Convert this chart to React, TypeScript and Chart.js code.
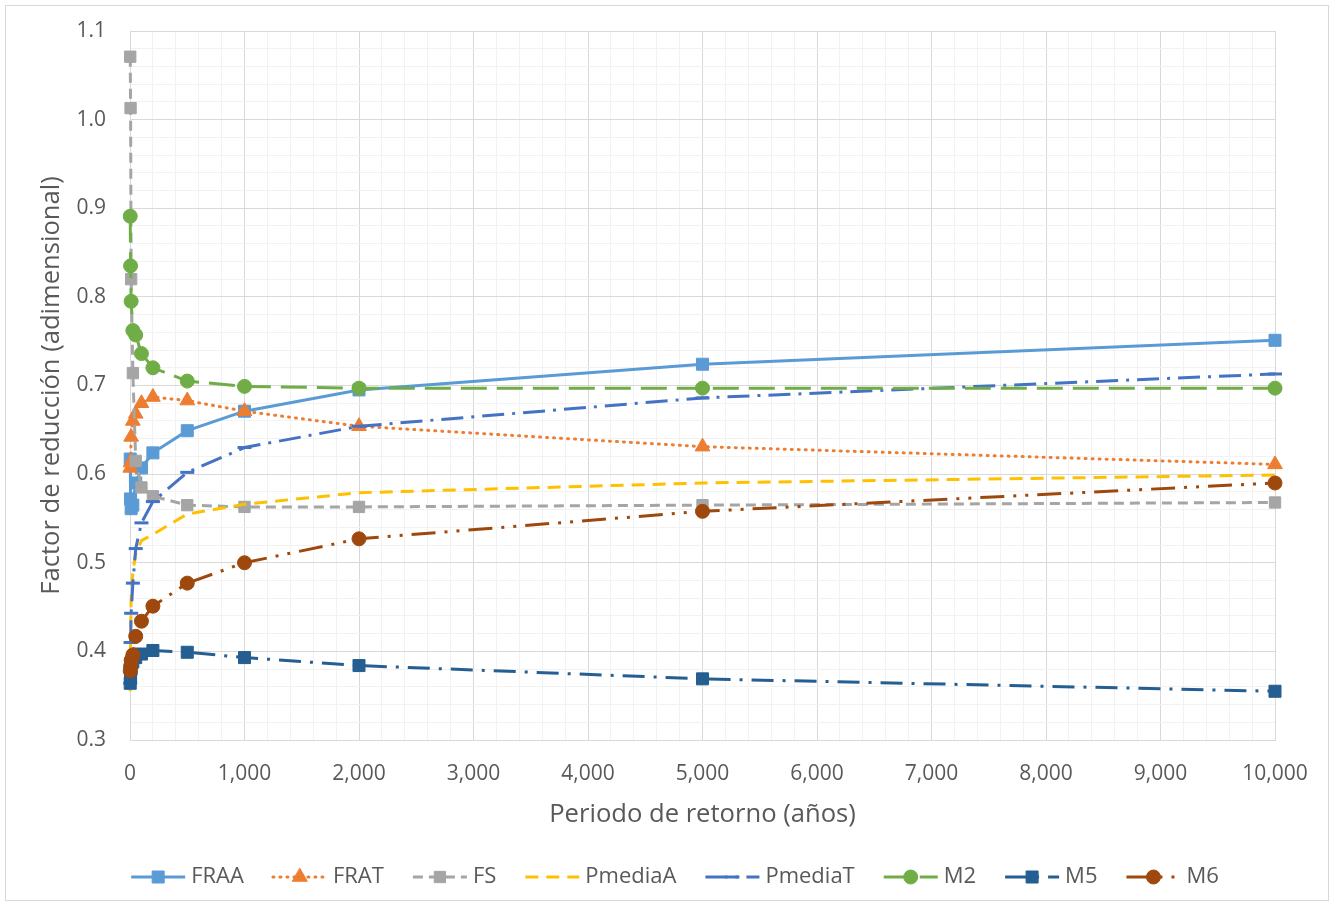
import React, { useEffect, useRef } from "react";
import { Chart, registerables } from "chart.js";
import { drawPoint } from "chart.js/helpers";

Chart.register(...registerables);

const returnPeriods = [2, 5, 10, 25, 50, 100, 200, 500, 1000, 2000, 5000, 10000];
const fraa = [0.617, 0.572, 0.561, 0.565, 0.59, 0.607, 0.624, 0.649, 0.671, 0.695, 0.724, 0.751];
const frat = [0.607, 0.613, 0.642, 0.66, 0.668, 0.68, 0.687, 0.683, 0.671, 0.654, 0.631, 0.611];
const fs = [1.071, 1.013, 0.82, 0.714, 0.615, 0.585, 0.575, 0.565, 0.563, 0.563, 0.565, 0.568];
const pmediaA = [0.355, 0.42, 0.46, 0.49, 0.51, 0.525, 0.532, 0.555, 0.566, 0.579, 0.59, 0.599];
const pmediaT = [0.364, 0.41, 0.443, 0.477, 0.516, 0.545, 0.569, 0.602, 0.63, 0.654, 0.686, 0.713];
const m2 = [0.891, 0.835, 0.795, 0.762, 0.757, 0.736, 0.72, 0.705, 0.699, 0.697, 0.697, 0.697];
const m5 = [0.364, 0.372, 0.38, 0.388, 0.393, 0.397, 0.401, 0.399, 0.393, 0.384, 0.369, 0.355];
const m6 = [0.378, 0.383, 0.39, 0.396, 0.417, 0.434, 0.451, 0.477, 0.5, 0.527, 0.558, 0.59];

const seriesNames = ["FRAA", "FRAT", "FS", "PmediaA", "PmediaT", "M2", "M5", "M6"];
const seriesValues = [fraa, frat, fs, pmediaA, pmediaT, m2, m5, m6];
const seriesColors = ["#5B9BD5", "#ED7D31", "#A5A5A5", "#FFC000", "#4472C4", "#70AD47", "#255E91", "#9E480E"];
const seriesDash: number[][] = [[], [1, 6], [10, 6], [13, 8], [22, 8, 3, 8], [26, 10], [22, 9, 3, 9], [24, 9, 3, 9, 3, 9]];
const seriesCap = ["butt", "round", "butt", "butt", "butt", "butt", "butt", "butt"];
const seriesPointStyle: any[] = ["rect", "triangle", "rect", false, "line", "circle", "rect", "circle"];
const seriesPointRadius = [8.5, 8.5, 8, 0, 7, 7, 8.5, 7];

const xTickLabelStep = 1000;
const yTickLabelStep = 0.1;

const FONT = "'Open Sans', sans-serif";
const TEXT = "#595959";

const legendPlugin = {
  id: "customLegend",
  afterDraw(chart: any) {
    const ctx = chart.ctx;
    const datasets = chart.data.datasets;
    ctx.save();
    ctx.font = `22px ${FONT}`;
    const lineLen = 54;
    const gapLine = 6;
    const gapItem = 29;
    const widths = datasets.map((d: any) => ctx.measureText(d.label).width);
    let total = 0;
    widths.forEach((w: number, i: number) => {
      total += lineLen + gapLine + w + (i < widths.length - 1 ? gapItem : 0);
    });
    let x = 675 - total / 2;
    const y = 877;
    datasets.forEach((d: any, i: number) => {
      ctx.save();
      ctx.strokeStyle = d.borderColor;
      ctx.lineWidth = d.borderWidth;
      ctx.setLineDash(d.borderDash || []);
      ctx.lineCap = d.borderCapStyle || "butt";
      ctx.beginPath();
      ctx.moveTo(x, y);
      ctx.lineTo(x + lineLen, y);
      ctx.stroke();
      ctx.setLineDash([]);
      if (d.pointStyle) {
        ctx.fillStyle = d.borderColor;
        ctx.strokeStyle = d.borderColor;
        ctx.lineWidth = d.pointStyle === "line" ? 3 : 1;
        drawPoint(ctx, { pointStyle: d.pointStyle, rotation: 0, radius: d.pointRadius, borderWidth: ctx.lineWidth }, x + lineLen / 2, y);
      }
      ctx.restore();
      ctx.fillStyle = TEXT;
      ctx.textBaseline = "middle";
      ctx.textAlign = "left";
      ctx.fillText(d.label, x + lineLen + gapLine, y);
      x += lineLen + gapLine + widths[i] + gapItem;
    });
    ctx.restore();
  },
};

export default function App() {
  const ref = useRef<HTMLCanvasElement | null>(null);
  useEffect(() => {
    document.body.style.margin = "0";
    const canvas = ref.current;
    if (!canvas) return;
    const n = seriesNames.length;
    const chart = new Chart(canvas, {
      type: "scatter",
      data: {
        datasets: seriesNames.map((name, i) => ({
          label: name,
          data: returnPeriods.map((x, j) => ({ x, y: seriesValues[i][j] })),
          showLine: true,
          borderColor: seriesColors[i],
          backgroundColor: seriesColors[i],
          borderWidth: 3,
          borderDash: seriesDash[i],
          borderCapStyle: seriesCap[i] as any,
          pointStyle: seriesPointStyle[i],
          pointRadius: seriesPointRadius[i],
          pointHoverRadius: seriesPointRadius[i],
          pointBorderWidth: seriesPointStyle[i] === "line" ? 3 : 1,
          pointBackgroundColor: seriesColors[i],
          pointBorderColor: seriesColors[i],
          tension: 0,
          clip: 12,
          order: n - i,
        })),
      },
      options: {
        responsive: false,
        animation: false,
        maintainAspectRatio: false,
        layout: { padding: { left: 20, top: 31, right: 59, bottom: 67 } },
        plugins: {
          legend: { display: false },
          tooltip: { enabled: false },
        },
        scales: {
          x: {
            type: "linear",
            min: 0,
            max: 10000,
            afterFit: (s: any) => {
              s.height = 100;
            },
            grid: {
              drawTicks: false,
              color: (c: any) => (Math.round(c.tick.value) % xTickLabelStep === 0 ? "#D9D9D9" : "#F2F2F2"),
              lineWidth: 1,
            },
            border: { color: "#D9D9D9" },
            ticks: {
              stepSize: 200,
              autoSkip: false,
              maxRotation: 0,
              padding: 21,
              color: TEXT,
              font: { family: FONT, size: 21 },
              callback: (v: any) => (Math.round(v) % xTickLabelStep === 0 ? Number(v).toLocaleString("en-US") : ""),
            },
            title: {
              display: true,
              text: "Periodo de retorno (años)",
              color: TEXT,
              font: { family: FONT, size: 25.6 },
              padding: { top: 0, bottom: 10 },
            },
          },
          y: {
            type: "linear",
            min: 0.3,
            max: 1.1,
            afterFit: (s: any) => {
              s.width = 110;
              s.paddingTop = 0;
              s.paddingBottom = 0;
            },
            grid: {
              drawTicks: false,
              color: (c: any) => (Math.round(c.tick.value * 100) % Math.round(yTickLabelStep * 100) === 0 ? "#D9D9D9" : "#F2F2F2"),
              lineWidth: 1,
            },
            border: { color: "#D9D9D9" },
            ticks: {
              stepSize: 0.02,
              autoSkip: false,
              padding: 24,
              color: TEXT,
              font: { family: FONT, size: 21 },
              callback: (v: any) => (Math.round(v * 100) % Math.round(yTickLabelStep * 100) === 0 ? Number(v).toFixed(1) : ""),
            },
            title: {
              display: true,
              text: "Factor de reducción (adimensional)",
              color: TEXT,
              font: { family: FONT, size: 25.6 },
              padding: { top: 16.6, bottom: 0 },
            },
          },
        },
      },
      plugins: [legendPlugin],
    });
    return () => chart.destroy();
  }, []);

  return (
    <div style={{ position: "relative", width: 1334, height: 907, background: "#fff" }}>
      <canvas ref={ref} width={1334} height={907} style={{ position: "absolute", left: 0, top: 0 }} />
      <div
        style={{
          position: "absolute",
          left: 5,
          top: 5,
          width: 1322,
          height: 894,
          border: "1px solid #D9D9D9",
          pointerEvents: "none",
        }}
      />
    </div>
  );
}
